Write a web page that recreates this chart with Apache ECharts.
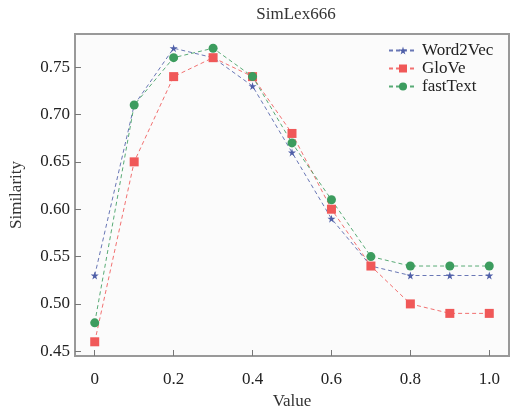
<!DOCTYPE html>
<html>
<head>
	<meta charset="utf-8" />
	<title>SimLex666</title>
	<script src="https://cdn.jsdelivr.net/npm/echarts@6/dist/echarts.min.js"></script>
	<style>
		html, body { margin: 0; padding: 0; background: #fff; }
		#main { width: 525px; height: 406px; }
	</style>
</head>
<body>
	<div id="main"></div>
	<script type="text/javascript">
		// x values
		var xValues = [0, 0.1, 0.2, 0.3, 0.4, 0.5, 0.6, 0.7, 0.8, 0.9, 1.0];
		var word2vec = [0.53, 0.71, 0.77, 0.76, 0.73, 0.66, 0.59, 0.54, 0.53, 0.53, 0.53];
		var glove = [0.46, 0.65, 0.74, 0.76, 0.74, 0.68, 0.60, 0.54, 0.50, 0.49, 0.49];
		var fasttext = [0.48, 0.71, 0.76, 0.77, 0.74, 0.67, 0.61, 0.55, 0.54, 0.54, 0.54];
		var xTicks = [0, 0.2, 0.4, 0.6, 0.8, 1.0];
		var yTicks = [0.45, 0.50, 0.55, 0.60, 0.65, 0.70, 0.75];

		var font = "'Liberation Serif', 'DejaVu Serif', serif";
		var star = 'path://M50,0 L61,35 L98,35 L68,57 L79,91 L50,70 L21,91 L32,57 L2,35 L39,35 Z';

		function pairs(ys) {
			var out = [];
			for (var i = 0; i < xValues.length; i++) out.push([xValues[i], ys[i]]);
			return out;
		}

		function makeSeries(name, ys, color, symbol, size) {
			return {
				name: name,
				type: 'line',
				data: pairs(ys),
				symbol: symbol,
				symbolSize: size,
				itemStyle: { color: color },
				lineStyle: { color: color, width: 1, type: [4, 3], opacity: 0.85 }
			};
		}

		var myChart = echarts.init(document.getElementById('main'), null, { renderer: 'canvas' });

		var option = {
			animation: false,
			title: {
				text: 'SimLex666',
				left: 291,
				textAlign: 'center',
				top: 1,
				textStyle: { fontFamily: font, fontSize: 17, fontWeight: 'normal', color: '#333' }
			},
			legend: {
				left: 388,
				top: 42,
				padding: 0,
				orient: 'vertical',
				itemGap: 1,
				itemWidth: 28,
				itemHeight: 10,
				textStyle: { fontFamily: font, fontSize: 17, color: '#222' },
				data: ['Word2Vec', 'GloVe', 'fastText']
			},
			grid: {
				left: 75,
				top: 34,
				right: 16,
				bottom: 50,
				outerBoundsMode: 'none',
				containLabel: false,
				show: true,
				backgroundColor: '#fbfbfb',
				borderColor: '#999',
				borderWidth: 2
			},
			xAxis: {
				type: 'value',
				min: -0.05,
				max: 1.05,
				name: 'Value',
				nameLocation: 'middle',
				nameGap: 30,
				nameTextStyle: { fontFamily: font, fontSize: 17, color: '#333' },
				axisLine: { show: true, onZero: false, lineStyle: { color: '#999', width: 2 } },
				splitLine: { show: false },
				axisTick: { show: true, inside: true, length: 6, customValues: xTicks, lineStyle: { color: '#777', width: 1 } },
				axisLabel: {
					customValues: xTicks,
					fontFamily: font, fontSize: 17, color: '#222', margin: 15,
					formatter: function (v) { return v === 0 ? '0' : v.toFixed(1); }
				}
			},
			yAxis: {
				type: 'value',
				min: 0.445,
				max: 0.785,
				name: 'Similarity',
				nameLocation: 'middle',
				nameGap: 50,
				nameTextStyle: { fontFamily: font, fontSize: 17, color: '#333' },
				axisLine: { show: true, onZero: false, lineStyle: { color: '#999', width: 2 } },
				splitLine: { show: false },
				axisTick: { show: true, inside: true, length: 6, customValues: yTicks, lineStyle: { color: '#777', width: 1 } },
				axisLabel: {
					customValues: yTicks,
					fontFamily: font, fontSize: 17, color: '#222', margin: 5,
					formatter: function (v) { return v.toFixed(2); }
				}
			},
			series: [
				makeSeries('Word2Vec', word2vec, '#4f5fa8', star, 8),
				makeSeries('GloVe', glove, '#f05858', 'rect', 9),
				makeSeries('fastText', fasttext, '#3c9c5e', 'circle', 9)
			]
		};

		myChart.setOption(option);
	</script>
</body>
</html>
